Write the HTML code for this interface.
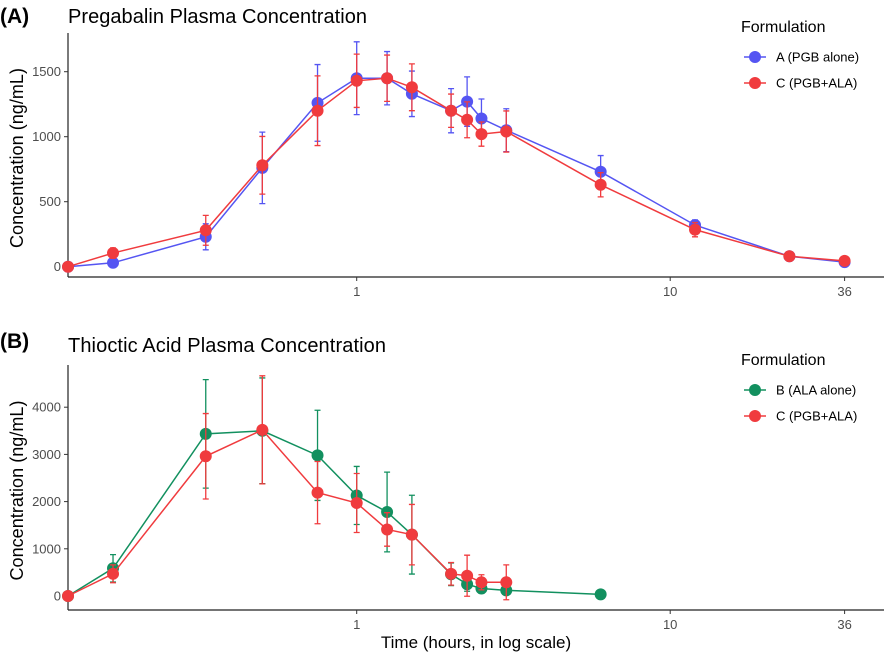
<!DOCTYPE html>
<html><head><meta charset="utf-8"><style>
body{margin:0;background:#fff;}
svg{display:block;font-family:"Liberation Sans",sans-serif;}
</style></head><body>
<svg id="chart" width="886" height="657" viewBox="0 0 886 657" xmlns="http://www.w3.org/2000/svg">
<text x="0" y="23" font-size="21" font-weight="bold">(A)</text>
<text x="68" y="23" font-size="20" textLength="299">Pregabalin Plasma Concentration</text>
<text x="0" y="348" font-size="21" font-weight="bold">(B)</text>
<text x="68" y="352" font-size="20" textLength="318">Thioctic Acid Plasma Concentration</text>
<text x="476" y="648" font-size="17" text-anchor="middle">Time (hours, in log scale)</text>
<g id="pa"></g>
<g id="pb"></g>
</svg>
<script>
const xTicks=[1,10,36];
const timesA=[0,0.167,0.33,0.5,0.75,1,1.25,1.5,2,2.25,2.5,3,6,12,24,36];
const pgbA=[0,30,230,760,1260,1450,1450,1330,1200,1270,1140,1050,730,320,80,35];
const pgbAsd=[0,10,100,275,295,280,205,175,170,190,150,165,125,40,15,10];
const pgbC=[0,105,280,780,1200,1430,1450,1380,1200,1130,1020,1040,630,285,80,45];
const pgbCsd=[0,40,115,222,268,205,178,180,128,138,93,158,93,55,20,10];
const yTicksA=[0,500,1000,1500];
const timesB=[0,0.167,0.33,0.5,0.75,1,1.25,1.5,2,2.25,2.5,3,6];
const alaB=[0,587,3435,3500,2980,2130,1780,1300,460,250,160,120,35];
const alaBsd=[0,290,1150,1120,955,615,845,835,240,150,100,80,20];
const timesC=[0,0.167,0.33,0.5,0.75,1,1.25,1.5,2,2.25,2.5,3];
const alaC=[0,470,2960,3520,2190,1970,1410,1300,470,430,290,290];
const alaCsd=[0,190,905,1145,660,625,355,640,240,435,160,370];
const yTicksB=[0,1000,2000,3000,4000];

const NS='http://www.w3.org/2000/svg';
function mk(tag,attrs,parent){const e=document.createElementNS(NS,tag);for(const k in attrs)e.setAttribute(k,attrs[k]);parent.appendChild(e);return e;}
function xs(t){return 356.7+313.5*Math.log10(Math.max(t,0.12));}

function panel(g,cfg){
  const ys=v=>cfg.y0-v*cfg.k;
  const yl=mk('line',{x1:68,x2:68,y1:cfg.top,y2:cfg.axisY,stroke:'#222','stroke-width':1.2},g);
  
  
  const xl=mk('line',{x1:68,x2:884,y1:cfg.axisY,y2:cfg.axisY,stroke:'#222','stroke-width':1.2},g);
  
  
  cfg.yt.forEach(v=>{
    const y=ys(v);
    mk('line',{x1:64,x2:68,y1:y,y2:y,stroke:'#333'},g);
    const t=mk('text',{x:61,y:y+4.5,'font-size':13,fill:'#4d4d4d','text-anchor':'end'},g);
    t.textContent=v;
    
    
  });
  xTicks.forEach(v=>{
    const x=xs(v);
    mk('line',{x1:x,x2:x,y1:cfg.axisY,y2:cfg.axisY+4,stroke:'#333'},g);
    const t=mk('text',{x:x,y:cfg.axisY+19,'font-size':13,fill:'#4d4d4d','text-anchor':'middle'},g);
    t.textContent=v;
    
    
  });
  const cy=(cfg.top+cfg.axisY)/2+3;
  const yt=mk('text',{x:23,y:cy,'font-size':18,'text-anchor':'middle',textLength:180,transform:'rotate(-90 23 '+cy+')'},g);
  yt.textContent='Concentration (ng/mL)';
  
  
  cfg.series.forEach(s=>{
    const sg=mk('g',{},g);
    
    
    const pts=s.t.map((t,i)=>xs(t)+','+ys(s.v[i])).join(' ');
    mk('polyline',{points:pts,fill:'none',stroke:s.c,'stroke-width':1.5},sg);
    s.t.forEach((t,i)=>{
      const x=xs(t),lo=ys(s.v[i]-s.sd[i]),hi=ys(s.v[i]+s.sd[i]);
      const eb=mk('path',{d:`M${x-3},${lo}H${x+3}M${x},${lo}V${hi}M${x-3},${hi}H${x+3}`,stroke:s.c,'stroke-width':1.3,fill:'none'},sg);
      
      
    });
    s.t.forEach((t,i)=>{
      const p=mk('circle',{cx:xs(t),cy:ys(s.v[i]),r:6,fill:s.c},sg);
      
      
    });
  });
  const lt=mk('text',{x:741,y:cfg.legY,'font-size':16},g);
  lt.textContent='Formulation';
  
  
  cfg.series.forEach((s,i)=>{
    const y=cfg.legY+25+i*26;
    const le=mk('g',{},g);
    
    
    mk('line',{x1:744,x2:766,y1:y,y2:y,stroke:s.c,'stroke-width':1.5},le);
    mk('circle',{cx:755,cy:y,r:6,fill:s.c},le);
    const tx=mk('text',{x:776,y:y+4.5,'font-size':13},le);
    tx.textContent=s.label;
  });
}
panel(document.getElementById('pa'),{top:33,axisY:277,y0:266.7,k:0.13,yt:yTicksA,legY:32,
  series:[{key:'a',t:timesA,v:pgbA,sd:pgbAsd,c:'#5555f2',label:'A (PGB alone)'},
          {key:'c',t:timesA,v:pgbC,sd:pgbCsd,c:'#f03b3e',label:'C (PGB+ALA)'}]});
panel(document.getElementById('pb'),{top:365,axisY:610,y0:596,k:0.0472,yt:yTicksB,legY:365,
  series:[{key:'b',t:timesB,v:alaB,sd:alaBsd,c:'#12905f',label:'B (ALA alone)'},
          {key:'c',t:timesC,v:alaC,sd:alaCsd,c:'#f03b3e',label:'C (PGB+ALA)'}]});
</script>
</body></html>
